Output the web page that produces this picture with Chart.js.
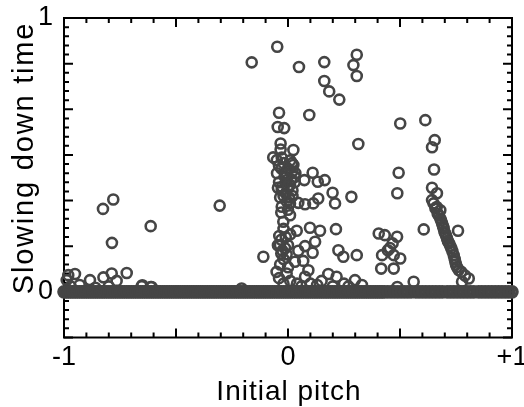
<!DOCTYPE html>
<html>
<head>
<meta charset="utf-8">
<script src="https://cdn.jsdelivr.net/npm/chart.js@4"></script>
<style>
  html, body { margin: 0; padding: 0; background: #fff; }
</style>
</head>
<body>
<canvas id="pitchChart" width="524" height="407"></canvas>
<script>
// Scattered runs: initial pitch vs. slowing down time
const pitch = [
    -0.162, -0.048, 0.049, 0.162, 0.307, 0.292, 0.307, 0.162, 0.184, 0.229,
    -0.040, 0.095, -0.046, -0.017, 0.314, -0.033, -0.033, -0.066, -0.028, 0.024,
    0.018, 0.501, 0.613, 0.655, 0.643, 0.494, 0.652, 0.488, 0.643, 0.665,
    0.283, 0.199, 0.110, 0.073, 0.133, 0.164, -0.049, -0.012, -0.027, 0.033,
    -0.826, -0.780, -0.305, -0.613, -0.786,
    -0.988, -0.981, -0.951, -0.884, -0.824, -0.787, -0.765, -0.720, -0.650, -0.609,
    -0.970, -0.930, -0.860, -0.800, -0.653, -0.613, -0.207, -0.110,
    0.210, -0.028, 0.009, 0.046, 0.076, 0.113, 0.135, 0.009, -0.021, -0.039,
    0.039, 0.098, 0.143, 0.214, -0.036, -0.013, -0.006, 0.046, 0.076, 0.121,
    0.110, 0.225, 0.247, 0.307, 0.031, 0.068, -0.051, -0.006, 0.091, 0.076,
    0.180, 0.217, 0.299,
    -0.050, 0.024, -0.006, -0.028, 0.009, 0.031, -0.040, 0.000, -0.015, -0.040,
    0.015, -0.010, 0.020, -0.035, -0.005, -0.030, 0.000, -0.020, 0.010, -0.030,
    -0.020, -0.035, 0.000, -0.040, 0.010, -0.020, 0.040, 0.060, 0.100, 0.130,
    0.150, 0.200, 0.250, 0.270, 0.330,
    -0.020, 0.010, -0.030, 0.020, -0.010, 0.030, -0.045, 0.000, 0.020, -0.020,
    0.005, -0.030, -0.010, -0.045, 0.000, -0.025,
    0.405, 0.432, 0.487, 0.467, 0.446, 0.472, 0.420, 0.501, 0.416, 0.472,
    0.455, 0.606,
    0.643, 0.650, 0.658, 0.668, 0.680, 0.680, 0.688, 0.695, 0.702, 0.710,
    0.720, 0.729, 0.740, 0.747, 0.754, 0.774, 0.807, 0.777, 0.759,
    0.664, 0.673, 0.684, 0.692, 0.698, 0.706, 0.714, 0.724, 0.734, 0.744,
    0.750, 0.762, 0.790,
    0.561, 0.488
];
const slowTime = [
    0.838, 0.895, 0.821, 0.839, 0.866, 0.828, 0.788, 0.770, 0.732, 0.702,
    0.654, 0.646, 0.602, 0.598, 0.540, 0.542, 0.520, 0.491, 0.490, 0.518,
    0.470, 0.615, 0.627, 0.554, 0.528, 0.435, 0.447, 0.360, 0.380, 0.360,
    0.347, 0.362, 0.435, 0.408, 0.402, 0.408, 0.433, 0.433, 0.384, 0.433,
    0.303, 0.337, 0.315, 0.240, 0.179,
    0.043, 0.061, 0.065, 0.043, 0.053, 0.067, 0.040, 0.069, 0.024, 0.018,
    0.020, 0.025, 0.015, 0.020, 0.021, 0.018, 0.012, 0.128,
    0.323, 0.311, 0.323, 0.325, 0.320, 0.323, 0.341, 0.280, 0.256, 0.204,
    0.223, 0.234, 0.223, 0.229, 0.171, 0.159, 0.137, 0.150, 0.167, 0.183,
    0.143, 0.152, 0.128, 0.134, 0.110, 0.113, 0.073, 0.067, 0.079, 0.055,
    0.065, 0.055, 0.043,
    0.481, 0.463, 0.408, 0.372, 0.390, 0.420, 0.460, 0.450, 0.420, 0.400,
    0.410, 0.360, 0.350, 0.345, 0.330, 0.290, 0.300, 0.230, 0.210, 0.140,
    0.120, 0.100, 0.090, 0.050, 0.040, 0.030, 0.030, 0.020, 0.030, 0.025,
    0.040, 0.020, 0.030, 0.020, 0.025,
    0.470, 0.480, 0.450, 0.440, 0.430, 0.400, 0.380, 0.385, 0.370, 0.350,
    0.345, 0.190, 0.200, 0.170, 0.170, 0.150,
    0.213, 0.207, 0.201, 0.177, 0.152, 0.134, 0.134, 0.122, 0.085, 0.085,
    0.160, 0.228,
    0.335, 0.323, 0.305, 0.286, 0.298, 0.268, 0.250, 0.232, 0.213, 0.195,
    0.177, 0.159, 0.134, 0.110, 0.091, 0.073, 0.049, 0.037, 0.223,
    0.310, 0.280, 0.260, 0.240, 0.220, 0.205, 0.185, 0.168, 0.148, 0.120,
    0.100, 0.080, 0.060,
    0.037, 0.018
];

// Runs that never slowed down (time = 0)
const zeroPitch = [
    -1.00, -0.99, -0.98, -0.97, -0.96, -0.95, -0.94, -0.93, -0.92, -0.91,
    -0.90, -0.89, -0.88, -0.87, -0.86, -0.85, -0.84, -0.83, -0.82, -0.81,
    -0.80, -0.79, -0.78, -0.77, -0.76, -0.75, -0.74, -0.73, -0.72, -0.71,
    -0.70, -0.69, -0.68, -0.67, -0.66, -0.65, -0.64, -0.63, -0.62, -0.61,
    -0.60, -0.59, -0.58, -0.57, -0.56, -0.55, -0.54, -0.53, -0.52, -0.51,
    -0.50, -0.49, -0.48, -0.47, -0.46, -0.45, -0.44, -0.43, -0.42, -0.41,
    -0.40, -0.39, -0.38, -0.37, -0.36, -0.35, -0.34, -0.33, -0.32, -0.31,
    -0.30, -0.29, -0.28, -0.27, -0.26, -0.25, -0.24, -0.23, -0.22, -0.21,
    -0.20, -0.19, -0.18, -0.17, -0.16, -0.15, -0.14, -0.13, -0.12, -0.11,
    -0.10, -0.09, -0.08, -0.07, -0.06, -0.05, -0.04, -0.03, -0.02, -0.01,
    0.00, 0.01, 0.02, 0.03, 0.04, 0.05, 0.06, 0.07, 0.08, 0.09,
    0.10, 0.11, 0.12, 0.13, 0.14, 0.15, 0.16, 0.17, 0.18, 0.19,
    0.20, 0.21, 0.22, 0.23, 0.24, 0.25, 0.26, 0.27, 0.28, 0.29,
    0.30, 0.31, 0.32, 0.33, 0.34, 0.35, 0.36, 0.37, 0.38, 0.39,
    0.40, 0.41, 0.42, 0.43,
    0.445, 0.46, 0.475, 0.49, 0.505, 0.52, 0.535, 0.55, 0.57, 0.585,
    0.60, 0.615, 0.63, 0.645, 0.66, 0.675, 0.69, 0.71, 0.725, 0.74,
    0.755, 0.77, 0.785, 0.80, 0.815, 0.83, 0.85, 0.865, 0.88, 0.895,
    0.91, 0.925, 0.94, 0.955, 0.97, 0.985, 1.00
];

// Axis ticks and titles
const xLabelled = [-1, 0, 1];
const xLabelText = ['-1', '0', '+1'];
const yLabelled = [0, 1];
const yLabelText = ['0', '1'];
const xTitle = 'Initial pitch';
const yTitle = 'Slowing down time';
const xMin = -1, xMax = 1, xMinor = 0.1;
const yMin = -1 / 6, yMax = 1, yMinor = 1 / 30;

const ink = '#454545';
const fontFamily = "'Liberation Sans', Arial, Helvetica, sans-serif";
Chart.defaults.font.family = fontFamily;
Chart.defaults.color = '#000';

const scattered = pitch.map((x, i) => ({ x: x, y: slowTime[i] }));
const zeroRuns = zeroPitch.map(x => ({ x: x, y: 0 }));

// Box frame with inward ticks on all four sides
const boxTicks = {
    id: 'boxTicks',
    beforeDatasetsDraw(chart) {
        const { ctx, chartArea: a, scales } = chart;
        ctx.save();
        ctx.strokeStyle = '#000';
        ctx.lineWidth = 2;
        ctx.strokeRect(a.left, a.top, a.right - a.left, a.bottom - a.top);
        ctx.beginPath();
        const nx = Math.round((xMax - xMin) / xMinor);
        for (let i = 0; i <= nx; i++) {
            const px = scales.x.getPixelForValue(xMin + i * xMinor);
            const len = i % 5 === 0 ? 9 : 5;
            ctx.moveTo(px, a.bottom); ctx.lineTo(px, a.bottom - len);
            ctx.moveTo(px, a.top); ctx.lineTo(px, a.top + len);
        }
        const ny = Math.round((yMax - yMin) / yMinor);
        for (let i = 0; i <= ny; i++) {
            const py = scales.y.getPixelForValue(yMin + i * yMinor);
            const len = i % 5 === 0 ? 9 : 5;
            ctx.moveTo(a.left, py); ctx.lineTo(a.left + len, py);
            ctx.moveTo(a.right, py); ctx.lineTo(a.right - len, py);
        }
        ctx.stroke();
        ctx.restore();
    }
};

// Axis titles, a little tracked out like the plotting package does
const axisTitles = {
    id: 'axisTitles',
    afterDraw(chart) {
        const { ctx, chartArea: a } = chart;
        ctx.save();
        ctx.fillStyle = '#000';
        ctx.textAlign = 'center';
        ctx.textBaseline = 'alphabetic';
        ctx.font = '28px ' + fontFamily;
        ctx.letterSpacing = '1px';
        ctx.fillText(xTitle, (a.left + a.right) / 2 + 1, 400);
        ctx.translate(33, 158);
        ctx.rotate(-Math.PI / 2);
        ctx.font = '29px ' + fontFamily;
        ctx.letterSpacing = '1.8px';
        ctx.fillText(yTitle, 0, 0);
        ctx.restore();
    }
};

new Chart(document.getElementById('pitchChart'), {
    type: 'scatter',
    data: {
        datasets: [{
            data: zeroRuns,
            pointStyle: 'circle',
            pointRadius: 5,
            borderWidth: 3.6,
            borderColor: ink,
            backgroundColor: 'rgba(0,0,0,0)',
            clip: false
        }, {
            data: scattered,
            pointStyle: 'circle',
            pointRadius: 5,
            borderWidth: 2.6,
            borderColor: ink,
            backgroundColor: 'rgba(0,0,0,0)',
            clip: false
        }]
    },
    options: {
        responsive: false,
        animation: false,
        events: [],
        layout: { padding: { left: 0, top: 18, right: 12, bottom: 0 } },
        plugins: {
            legend: { display: false },
            tooltip: { enabled: false }
        },
        scales: {
            x: {
                type: 'linear',
                min: xMin,
                max: xMax,
                grid: { display: false, drawTicks: false },
                border: { display: false },
                afterBuildTicks: scale => { scale.ticks = xLabelled.map(v => ({ value: v })); },
                afterFit: scale => {
                    scale.height = 69.5;
                    scale.paddingLeft = 0;
                    scale.paddingRight = 0;
                },
                ticks: {
                    autoSkip: false,
                    maxRotation: 0,
                    padding: 6.5,
                    font: { size: 27, lineHeight: 1 },
                    color: '#000',
                    callback: (v, i) => xLabelText[i]
                }
            },
            y: {
                type: 'linear',
                min: yMin,
                max: yMax,
                grid: { display: false, drawTicks: false },
                border: { display: false },
                afterBuildTicks: scale => { scale.ticks = yLabelled.map(v => ({ value: v })); },
                afterFit: scale => {
                    scale.width = 64;
                    scale.paddingTop = 0;
                    scale.paddingBottom = 0;
                },
                ticks: {
                    autoSkip: false,
                    padding: 11,
                    font: { size: 27, lineHeight: 1 },
                    color: '#000',
                    callback: (v, i) => yLabelText[i]
                }
            }
        }
    },
    plugins: [boxTicks, axisTitles]
});
</script>
</body>
</html>
